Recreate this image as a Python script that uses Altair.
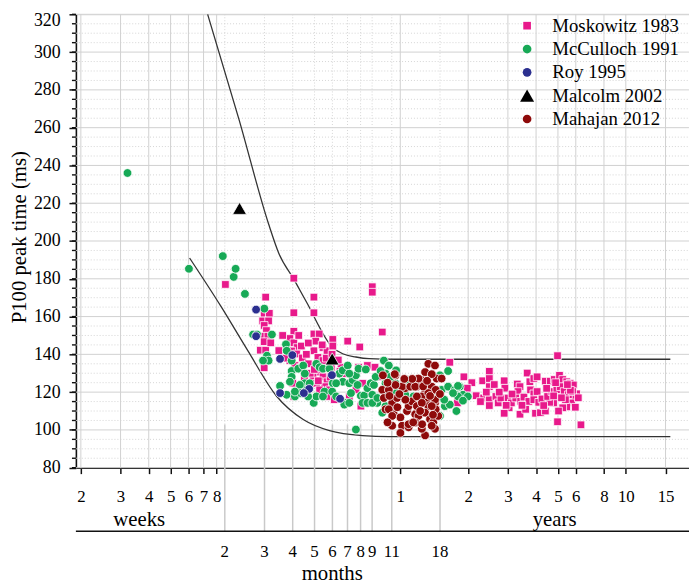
import altair as alt
import pandas as pd

# ---------------- axis tick positions ----------------
WEEKS_PER_YEAR = 52.1775
WEEKS_PER_MONTH = 4.3482
WEEK_TICKS = [2, 3, 4, 5, 6, 7, 8]
YEAR_TICKS = [1, 2, 3, 4, 5, 6, 8, 10, 15]
MONTH_TICKS = [2, 3, 4, 5, 6, 7, 8, 9, 11, 18]
Y_MAJOR = list(range(80, 321, 20))
Y_MINOR = [v for v in range(80, 321, 5) if v % 20 != 0]

STUDIES = ["Moskowitz 1983", "McCulloch 1991", "Roy 1995", "Malcolm 2002", "Mahajan 2012"]
COLORS = ["#E8198B", "#17A956", "#2B2F8F", "#000000", "#8E0A0A"]
SHAPES = ["square", "circle", "circle", "triangle-up", "circle"]
SIZES = [60, 78, 78, 200, 78]

# ---------------- normal-range curves (age in weeks, ms) ----------------
UPPER_AGE = [7.30, 10.05, 13.60, 15.09, 17.61, 20.02, 26.21, 28.99, 33.16, 37.92, 49.66, 822]
UPPER_MS = [320, 264.4, 209, 193.5, 179.7, 167.7, 143.5, 140.3, 138.6, 137.7, 137.4, 137.4]
LOWER_AGE = [6.07, 8.35, 10.93, 14.79, 19.37, 25.33, 35.48, 46.40, 822]
LOWER_MS = [191, 165.5, 142.5, 117.7, 105.5, 99.6, 97.0, 96.5, 96.5]

# ---------------- data points (age in weeks, P100 ms) ----------------
MOSKOWITZ = [
    (8.75, 177), (17.6, 180.3), (39.2, 175.8), (39.2, 172.9), (13.2, 170.3), (17.6, 162), (21.6, 170.3), (21.6, 162),
    (13.0, 161.7), (13.7, 161.7), (12.8, 157.7), (13.6, 157.7), (13.0, 155.3), (13.3, 152.6), (13.0, 149.6), (13.5, 149.6),
    (13.0, 146.7), (12.5, 142.2), (13.2, 142.2), (13.9, 146.1), (13.0, 132.9),
    (17.6, 152.2), (16.9, 148.4), (16.4, 144.4), (17.6, 146.1), (18.2, 143.6), (19.0, 144.4), (17.2, 141.8), (18.1, 140.2),
    (19.2, 138.1), (16.9, 136.7), (17.8, 134.1), (17.4, 124.7), (17.6, 117.7),
    (21.6, 150.8), (22.8, 150.8), (22.0, 147.0), (23.7, 143.6), (24.7, 141.9), (21.6, 141.9), (22.5, 138.4), (23.7, 136.7),
    (22.0, 134.1), (24.1, 132.4), (22.9, 130.6), (21.4, 128.1), (23.7, 128.1), (24.7, 125.5), (22.2, 124.7), (24.1, 122.9),
    (22.9, 121.2), (25.3, 121.2), (26.2, 147.9), (26.2, 144.4), (25.8, 133.2), (24.9, 117.7), (26.6, 116.0),
    (30.5, 147.0), (34.5, 143.9), (43.4, 151.8), (28.5, 133.2), (30.0, 129.8), (34.1, 133.2), (37.3, 134.1), (40.3, 133.2),
    (41.3, 128.1), (35.5, 124.7), (33.2, 121.2), (37.9, 119.5), (31.0, 117.7), (34.9, 112.6),
    (20.0, 140), (20.4, 135), (20.8, 130), (19.6, 128), (18.8, 133), (23.5, 145), (24.5, 138), (25.5, 128), (22.6, 126),
    (21.7, 132), (20.4, 146), (15.7, 150), (16.0, 138), (15.1, 142), (18.5, 150), (26.0, 140), (27.7, 137), (28.2, 131),
    (86.5, 135.8), (99.9, 128.1), (108.3, 125.0), (103.4, 122.1), (93.5, 114.3), (113.2, 118.1), (121.0, 126.0),
    (129.5, 131.0), (129.5, 127.2), (129.5, 122.9), (122.2, 116.9), (129.5, 116.0), (129.5, 112.9), (138.5, 117.7),
    (141.8, 114.3), (145.8, 116.9), (150.7, 126.0), (151.8, 122.1), (156.9, 116.9), (158.5, 111.7), (150.7, 108.8),
    (162.2, 114.3), (172.3, 124.3), (177.1, 122.9), (173.5, 120.3), (169.6, 116.9), (178.3, 115.1), (184.4, 117.4),
    (177.1, 108.3), (187.6, 110.9), (190.6, 130.1), (195.9, 125.5), (204.0, 127.2), (210.9, 128.1), (197.2, 121.2),
    (204.0, 119.1), (210.9, 120.3), (193.9, 115.1), (204.0, 116.0), (214.5, 114.6), (221.7, 116.4), (207.5, 108.8),
    (218.2, 109.1), (229.5, 125.8), (241.4, 125.8), (251.3, 126.7), (265.1, 128.9), (274.0, 126.7), (285.4, 125.5),
    (295.4, 124.7), (305.4, 123.8), (315.7, 119.1), (310.7, 116.9), (300.2, 114.3), (285.4, 112.2), (274.0, 111.7),
    (262.5, 110.0), (249.6, 114.3), (239.7, 114.6), (234.8, 117.7), (245.3, 120.3), (258.0, 121.2), (267.0, 122.9),
    (278.0, 120.3), (290.4, 118.6), (303.1, 120.3), (259.8, 104.3), (229.5, 110.0), (225.6, 112.9), (259.8, 139.3),
    (330.0, 102.7), (249.6, 118), (281.7, 116), (296.3, 121), (270.5, 117), (232.5, 122), (311.6, 112), (321.2, 117),
    (287.4, 124), (254.7, 125), (136.2, 124), (125.6, 120), (143.3, 120), (163.3, 119), (180.7, 113), (118.3, 115),
    (153.8, 113),
]
MCCULLOCH = [
    (3.22, 236), (6.03, 185.3), (8.52, 192), (9.52, 181), (9.71, 185.3), (10.68, 172), (13.02, 164.2), (33.16, 100.2),
    (11.61, 150.5), (12.09, 150.5), (14.07, 150.5), (13.37, 139.3), (13.60, 136.7), (12.85, 136.7), (16.24, 145.3),
    (16.36, 141.9), (17.21, 136.7), (17.21, 131.2), (17.21, 128.1), (16.91, 125.5), (18.41, 132.4), (19.37, 134.1),
    (19.68, 129.8), (19.68, 124.7), (20.02, 121.2), (15.29, 123.3), (16.36, 118.6), (17.79, 117.7), (18.71, 123.8),
    (18.84, 119.5), (21.55, 114.3), (22.15, 135.0), (22.90, 133.2), (23.69, 132.4), (24.07, 120.3), (25.33, 132.4),
    (26.21, 124.7), (26.03, 120.3), (28.01, 129.8), (28.99, 125.5), (28.99, 131.5), (30.50, 134.1), (30.99, 124.7),
    (31.53, 119.5), (29.98, 114.3), (32.07, 126.4), (33.16, 128.9), (33.73, 123.8), (34.07, 132.4), (34.88, 118.1),
    (36.06, 118.2), (36.68, 132.0), (37.31, 122.1), (38.58, 124.7), (39.24, 118.6), (39.88, 123.8), (40.58, 128.1),
    (44.12, 136.7), (46.40, 134.1), (44.89, 129.8), (41.28, 114.3), (49.66, 124.7), (30.99, 129.8), (27.10, 124.7),
    (27.10, 117.7), (35.48, 114.3), (37.31, 114.3), (39.24, 114.3), (29.46, 113.4), (30.99, 114.3), (20.69, 124.7),
    (22.15, 117.7), (20.36, 117.7), (23.69, 117.7), (17.79, 120.3),
    (42.68, 131.2), (47.21, 128.1), (50.01, 131.5), (44.89, 124.7), (53.13, 122.1), (56.78, 126.4), (58.76, 122.9),
    (45.66, 119.5), (50.01, 119.5), (54.93, 118.6), (59.72, 117.7), (44.89, 112.6), (48.80, 113.4), (79.55, 121.2),
    (85.01, 122.9), (90.97, 121.2), (95.68, 122.9), (98.90, 118.6), (103.99, 117.7), (82.24, 112.6), (86.50, 113.4),
    (92.53, 110.0), (78.20, 107.4), (71.91, 120.3), (75.63, 116.9), (94.03, 117.7), (89.41, 119.5), (41.28, 116.9),
    (43.41, 109.1), (78.20, 128.9), (85.01, 131.2), (94.03, 123.3), (98.90, 115.5), (81.7, 116.0),
]
ROY = [
    (11.97, 163.7), (11.97, 149.6), (15.29, 137.6), (17.33, 139.6), (25.95, 129.0), (20.57, 121.7), (19.49, 119.5),
    (15.29, 119.5), (28.21, 116.5),
]
MALCOLM = [(10.11, 217.3), (26.03, 137.6)]
MAHAJAN = [
    (43.68, 128.9), (43.41, 121.2), (44.12, 116.9), (46.40, 121.2), (44.89, 110.9), (48.02, 114.3), (50.51, 116.9),
    (48.80, 108.3), (48.02, 102.2), (52.23, 106.6), (53.13, 102.2), (52.23, 98.4), (56.78, 101.4), (55.87, 110.0),
    (56.78, 112.6), (58.76, 115.1), (60.76, 108.3), (61.81, 122.9), (65.01, 126.4), (69.47, 135.0), (67.21, 130.6),
    (74.35, 134.1), (75.63, 127.2), (71.91, 122.9), (67.21, 119.5), (65.01, 117.7), (69.47, 115.1), (61.81, 112.6),
    (62.81, 107.4), (69.47, 112.6), (67.21, 109.1), (70.69, 105.7), (73.07, 104.0), (74.35, 100.6), (76.86, 107.4),
    (67.21, 97.1), (74.35, 114.3), (74.87, 110.9), (74.87, 121.2), (54.93, 122.1), (56.78, 103.0), (49.66, 128.9),
    (53.13, 122.9), (57.77, 122.9), (49.30, 129.5), (49.66, 123.8), (60.76, 122.9), (62.81, 127.2), (71.91, 129.5),
    (79.55, 127.2), (54.93, 116.0), (61.81, 117.7), (69.47, 119.5), (74.35, 116.0), (46.40, 110.9), (65.01, 114.3),
    (71.91, 112.6), (48.02, 107.4), (65.01, 100.6), (71.91, 102.2), (60.76, 103.9), (45.80, 125), (51.69, 119),
    (58.94, 127), (63.91, 110), (65.87, 123), (70.69, 118), (72.85, 108), (59.54, 104), (50.67, 112), (45.80, 104),
    (54.36, 127), (68.58, 126), (78.20, 119), (65.21, 103), (46.72, 118),
]

# ---------------- tables ----------------
DRAW_ORDER = ["Moskowitz 1983", "McCulloch 1991", "Roy 1995", "Mahajan 2012", "Malcolm 2002"]
rows = []
for name, pts in zip(STUDIES, [MOSKOWITZ, MCCULLOCH, ROY, MALCOLM, MAHAJAN]):
    for a, v in pts:
        rows.append({"age": a, "ms": v, "study": name, "rank": DRAW_ORDER.index(name)})
points_df = pd.DataFrame(rows)

curves_df = pd.concat([
    pd.DataFrame({"age": UPPER_AGE, "ms": UPPER_MS, "curve": "upper"}),
    pd.DataFrame({"age": LOWER_AGE, "ms": LOWER_MS, "curve": "lower"}),
])

vmajor_df = pd.DataFrame({"age": WEEK_TICKS + [y * WEEKS_PER_YEAR for y in YEAR_TICKS]})
months_df = pd.DataFrame({"age": [m * WEEKS_PER_MONTH for m in MONTH_TICKS], "label": [str(m) for m in MONTH_TICKS]})
hmajor_df = pd.DataFrame({"ms": Y_MAJOR})
hminor_df = pd.DataFrame({"ms": Y_MINOR})
yminor_ticks_df = pd.DataFrame({"ms": list(range(80, 321, 5))})

# ---------------- scales / layout ----------------
TOP = 3
W, H = 620.3, 458.7
x_scale = alt.Scale(type="log", domain=[1.9016, 994.5], nice=False, zero=False)
y_scale = alt.Scale(domain=[80, 320], nice=False, zero=False)
SERIF = "Liberation Serif"


def py(page_y):
    """page pixel row -> plot-local row"""
    return page_y - 8 - TOP


xq = lambda: alt.X("age:Q", scale=x_scale, axis=None)
yq = lambda: alt.Y("ms:Q", scale=y_scale, axis=None)

grid_h_major = alt.Chart(hmajor_df).mark_rule(color="#d0d0d0", strokeWidth=1).encode(
    y=yq(), x=alt.value(0), x2=alt.value(W))
grid_h_minor = alt.Chart(hminor_df).mark_rule(color="#d4d4d4", strokeWidth=1, strokeDash=[1, 2]).encode(
    y=yq(), x=alt.value(0), x2=alt.value(W))
grid_v_major = alt.Chart(vmajor_df).mark_rule(color="#d0d0d0", strokeWidth=1).encode(
    x=xq(), y=alt.value(0), y2=alt.value(H))
grid_v_minor = alt.Chart(months_df).mark_rule(color="#d4d4d4", strokeWidth=1, strokeDash=[1, 2]).encode(
    x=xq(), y=alt.value(0), y2=alt.value(H))
month_lines = alt.Chart(months_df).mark_rule(color="#c9c9c9", strokeWidth=1.5).encode(
    x=xq(), y=alt.value(py(426)), y2=alt.value(py(534)))
y_minor_ticks = alt.Chart(yminor_ticks_df).mark_rule(color="#111", strokeWidth=1.4).encode(
    y=yq(), x=alt.value(-4), x2=alt.value(0))

curves = alt.Chart(curves_df).mark_line(color="#333333", strokeWidth=1.3, interpolate="monotone").encode(
    x=xq(), y=yq(), detail="curve:N")

points = alt.Chart(points_df).mark_point(filled=True, opacity=1, stroke="white", strokeWidth=0.8).encode(
    x=alt.X("age:Q", scale=x_scale, axis=alt.Axis(
        values=WEEK_TICKS + [y * WEEKS_PER_YEAR for y in YEAR_TICKS],
        labelExpr="datum.value < 20 ? format(datum.value, 'd') : format(round(datum.value / 52.1775), 'd')",
        title=None, grid=False, tickSize=6, tickWidth=1.5, tickColor="#111", domainColor="#111", domainWidth=1.6,
        labelFont=SERIF, labelFontSize=17, labelColor="#000", labelPadding=15, labelOverlap=False, labelFlush=False)),
    y=alt.Y("ms:Q", scale=y_scale, axis=alt.Axis(
        values=Y_MAJOR, title="P100 peak time (ms)", grid=False, tickSize=7, tickWidth=1.5, tickColor="#111",
        domainColor="#111", domainWidth=1.6, labelFont=SERIF, labelFontSize=18, labelColor="#000",
        labelPadding=9, labelOverlap=False, labelFlush=False,
        labelOffset=alt.condition("datum.value >= 320", alt.value(6), alt.value(0)),
        titleFont=SERIF, titleFontSize=21, titleFontWeight="normal", titleColor="#000",
        titleX=-57, titleY=py(236), titleAngle=-90, titleAlign="center", titleBaseline="middle")),
    color=alt.Color("study:N", scale=alt.Scale(domain=STUDIES, range=COLORS), sort=STUDIES,
                    legend=alt.Legend(title=None, orient="none", legendX=447, legendY=py(13), padding=0,
                                      labelFont=SERIF, labelFontSize=19, labelColor="#000",
                                      labelOffset=16, rowPadding=3.6, symbolStrokeWidth=0)),
    shape=alt.Shape("study:N", scale=alt.Scale(domain=STUDIES, range=SHAPES), sort=STUDIES),
    size=alt.Size("study:N", scale=alt.Scale(type="ordinal", domain=STUDIES, range=SIZES), sort=STUDIES),
    order=alt.Order("rank:Q"),
)

month_labels = alt.Chart(months_df).mark_text(font=SERIF, fontSize=17, color="#000", baseline="middle").encode(
    x=xq(), y=alt.value(py(555)), text="label:N")

unit_df = pd.DataFrame({"t": ["weeks", "years", "months"], "px": [64, 484.3, 259.3],
                        "py": [py(523), py(523), py(577)]})
unit_labels = alt.Chart(unit_df).mark_text(font=SERIF, fontSize=21, color="#000", baseline="middle").encode(
    x=alt.X("px:Q", scale=None, axis=None), y=alt.Y("py:Q", scale=None, axis=None), text="t:N")

separator = alt.Chart(pd.DataFrame({"a": [0]})).mark_rule(color="#111", strokeWidth=1.3).encode(
    x=alt.value(0), x2=alt.value(W), y=alt.value(py(534)))

chart = alt.layer(
    grid_h_minor, grid_h_major, grid_v_minor, grid_v_major, month_lines, y_minor_ticks,
    curves, points, month_labels, unit_labels, separator,
).resolve_axis(x="independent", y="independent").properties(
    width=W, height=H,
    autosize=alt.AutoSizeParams(type="none"),
    padding={"left": 68.7, "top": TOP, "right": 0, "bottom": 578 - TOP - H},
).configure_view(stroke=None).configure(background="white")

chart.save("out.html", embed_options={"renderer": "svg", "actions": False})
